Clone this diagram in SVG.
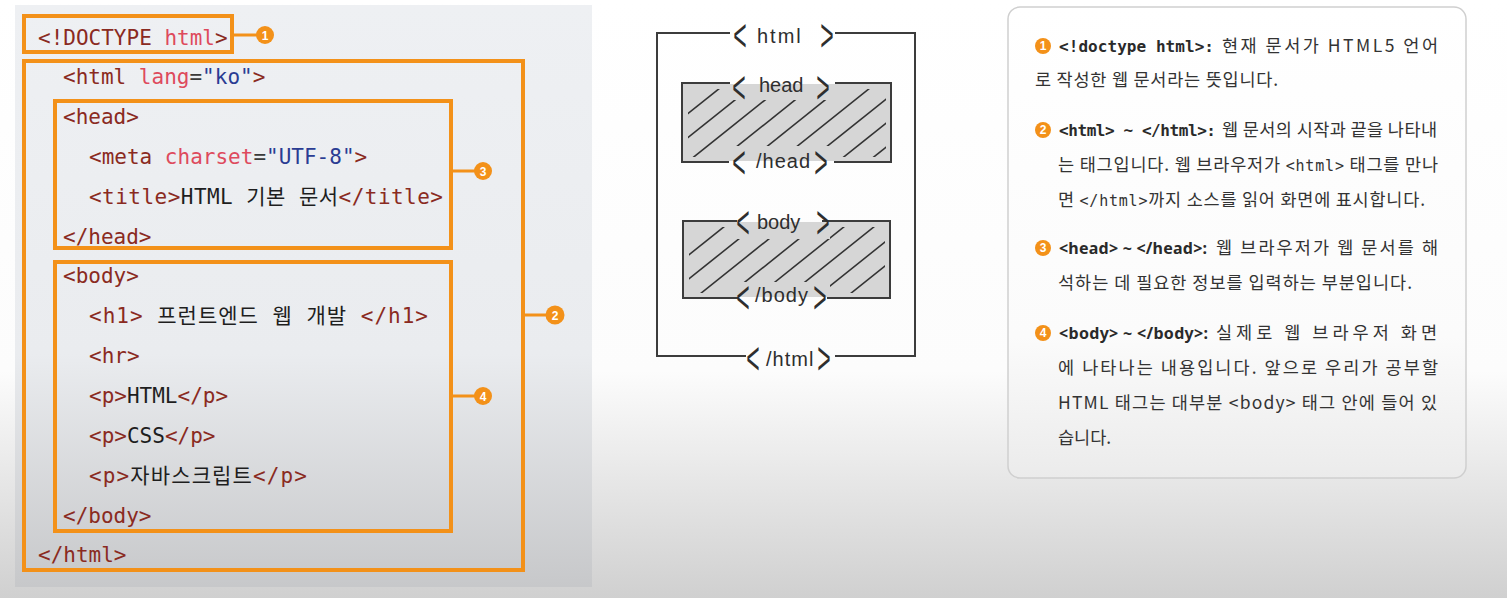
<svg xmlns="http://www.w3.org/2000/svg" width="1507" height="598" viewBox="0 0 1507 598">
<defs>
<linearGradient id="bg" x1="0" y1="0" x2="0" y2="1"><stop offset="0" stop-color="#ffffff"/><stop offset="0.62" stop-color="#fcfcfc"/><stop offset="1" stop-color="#d0d0d0"/></linearGradient>
<linearGradient id="lp" x1="0" y1="0" x2="0" y2="1"><stop offset="0" stop-color="#eef0f3"/><stop offset="0.6" stop-color="#eaecef"/><stop offset="1" stop-color="#c7c8ca"/></linearGradient>
<linearGradient id="rp" x1="0" y1="0" x2="0" y2="1"><stop offset="0" stop-color="#ffffff"/><stop offset="0.7" stop-color="#fbfbfb"/><stop offset="1" stop-color="#ebebeb"/></linearGradient>
<clipPath id="hc"><path clip-rule="evenodd" d="M688 89H886V157H688Z M727 89H842V100H727Z M720 146H836V157H720Z"/></clipPath>
<clipPath id="bc"><path clip-rule="evenodd" d="M689 227H885V293H689Z M733 227H830V239H733Z M728 282H830V293H728Z"/></clipPath>
<style>
.code{font-family:"DejaVu Sans Mono","Noto Sans CJK KR",monospace;font-size:21px}
.tg{fill:#8a2a21}.at{fill:#de4a5d}.st{fill:#2a3c93}.tx{fill:#1e1e1e}.eq{fill:#3a3a3a}
.obox{fill:none;stroke:#f39119;stroke-width:4}
.cl{stroke:#f39119;stroke-width:3;fill:none}
.dot{fill:#f39119}
.num{font-family:"Liberation Sans",Arial,sans-serif;font-weight:bold;font-size:12px;fill:#fff;text-anchor:middle}
.hand{font-family:"Liberation Sans",Arial,sans-serif;font-size:20px;fill:#2e2e2e}
.brk{font-family:"Liberation Sans",Arial,sans-serif;font-size:46px;fill:#2e2e2e;text-anchor:middle}
.edge{fill:none;stroke:#3c3c3c;stroke-width:2}
.hatch line{stroke:#333;stroke-width:1.6;stroke-linecap:round}
.gfill{fill:#d6d6d6}
.kr{font-family:"Noto Sans CJK KR","Noto Sans",sans-serif;font-size:17.5px;fill:#333}
.bm{font-family:"DejaVu Sans Mono","Liberation Mono",monospace;font-size:16px;font-weight:bold;fill:#2a2a2a}
.bs{font-family:"Noto Sans","Noto Sans CJK KR",sans-serif;font-size:16px;font-weight:bold;fill:#2a2a2a}
.mc{font-family:"DejaVu Sans Mono","Liberation Mono",monospace;font-size:15px}
</style>
</defs>
<rect width="1507" height="598" fill="url(#bg)"/>

<g id="code-panel">
<rect x="15" y="5" width="577" height="582" fill="url(#lp)"/>
<g class="code" xml:space="preserve">
<text x="38" y="45"><tspan class="tg">&lt;!DOCTYPE </tspan><tspan class="at">html</tspan><tspan class="tg">&gt;</tspan></text>
<text x="63" y="84"><tspan class="tg">&lt;html </tspan><tspan class="at">lang</tspan><tspan class="eq">=</tspan><tspan class="st">"ko"</tspan><tspan class="tg">&gt;</tspan></text>
<text x="63" y="124"><tspan class="tg">&lt;head&gt;</tspan></text>
<text x="89" y="164"><tspan class="tg">&lt;meta </tspan><tspan class="at">charset</tspan><tspan class="eq">=</tspan><tspan class="st">"UTF-8"</tspan><tspan class="tg">&gt;</tspan></text>
<text x="89" y="204" textLength="354" lengthAdjust="spacing"><tspan class="tg">&lt;title&gt;</tspan><tspan class="tx">HTML 기본 문서</tspan><tspan class="tg">&lt;/title&gt;</tspan></text>
<text x="63" y="244"><tspan class="tg">&lt;/head&gt;</tspan></text>
<text x="63" y="283"><tspan class="tg">&lt;body&gt;</tspan></text>
<text x="89" y="323" textLength="339" lengthAdjust="spacing"><tspan class="tg">&lt;h1&gt;</tspan><tspan class="tx"> 프런트엔드 웹 개발 </tspan><tspan class="tg">&lt;/h1&gt;</tspan></text>
<text x="89" y="363"><tspan class="tg">&lt;hr&gt;</tspan></text>
<text x="89" y="403"><tspan class="tg">&lt;p&gt;</tspan><tspan class="tx">HTML</tspan><tspan class="tg">&lt;/p&gt;</tspan></text>
<text x="89" y="443"><tspan class="tg">&lt;p&gt;</tspan><tspan class="tx">CSS</tspan><tspan class="tg">&lt;/p&gt;</tspan></text>
<text x="89" y="483" textLength="218" lengthAdjust="spacing"><tspan class="tg">&lt;p&gt;</tspan><tspan class="tx">자바스크립트</tspan><tspan class="tg">&lt;/p&gt;</tspan></text>
<text x="63" y="523"><tspan class="tg">&lt;/body&gt;</tspan></text>
<text x="38" y="562"><tspan class="tg">&lt;/html&gt;</tspan></text>
</g>
</g>

<g id="box-doctype"><rect class="obox" x="24" y="16" width="208" height="36"/></g>
<g id="box-html"><rect class="obox" x="24" y="61" width="499" height="509"/></g>
<g id="box-head"><rect class="obox" x="55" y="101" width="396" height="147"/></g>
<g id="box-body"><rect class="obox" x="55" y="262" width="396" height="269"/></g>

<g id="connectors">
<line class="cl" x1="232" y1="35" x2="258" y2="35"/>
<line class="cl" x1="451" y1="171" x2="476" y2="171"/>
<line class="cl" x1="523" y1="315" x2="548" y2="315"/>
<line class="cl" x1="451" y1="396" x2="476" y2="396"/>
</g>

<g id="callout-1"><circle class="dot" cx="265" cy="35" r="9"/><text class="num" x="265" y="39.5">1</text></g>
<g id="callout-3"><circle class="dot" cx="483" cy="171" r="9"/><text class="num" x="483" y="175.5">3</text></g>
<g id="callout-2"><circle class="dot" cx="555" cy="315" r="9.5"/><text class="num" x="555" y="319.5">2</text></g>
<g id="callout-4"><circle class="dot" cx="483" cy="396" r="9"/><text class="num" x="483" y="400.5">4</text></g>

<g id="sketch">
<g id="sketch-html">
<path class="edge" d="M730 33H657V356H746 M835 33H915V356H835"/>
<text class="brk" transform="translate(740 51) scale(0.5 1)">&lt;</text>
<text class="hand" x="757" y="43" letter-spacing="2">html</text>
<text class="brk" transform="translate(827 51) scale(0.5 1)">&gt;</text>
<text class="brk" transform="translate(753 374) scale(0.5 1)">&lt;</text>
<text class="hand" x="766" y="366" letter-spacing="1">/html</text>
<text class="brk" transform="translate(824 374) scale(0.5 1)">&gt;</text>
</g>
<g id="sketch-head">
<rect class="gfill" x="682" y="84" width="209" height="77"/>
<g class="hatch" clip-path="url(#hc)">
<line x1="630" y1="160" x2="725" y2="84"/>
<line x1="660" y1="160" x2="755" y2="84"/><line x1="690" y1="160" x2="785" y2="84"/>
<line x1="720" y1="160" x2="815" y2="84"/><line x1="750" y1="160" x2="845" y2="84"/>
<line x1="780" y1="160" x2="875" y2="84"/><line x1="810" y1="160" x2="905" y2="84"/>
<line x1="840" y1="160" x2="935" y2="84"/><line x1="870" y1="160" x2="965" y2="84"/>
</g>
<path class="edge" d="M730 83H682V162H729 M835 83H891V162H834"/>
<text class="brk" transform="translate(739 103) scale(0.5 1)">&lt;</text>
<text class="hand" x="759" y="92">head</text>
<text class="brk" transform="translate(823 103) scale(0.5 1)">&gt;</text>
<text class="brk" transform="translate(739 178) scale(0.5 1)">&lt;</text>
<text class="hand" x="756" y="168" letter-spacing="1">/head</text>
<text class="brk" transform="translate(821 178) scale(0.5 1)">&gt;</text>
</g>
<g id="sketch-body">
<rect class="gfill" x="683" y="222" width="207" height="75"/>
<g class="hatch" clip-path="url(#bc)">
<line x1="635" y1="298" x2="730" y2="222"/>
<line x1="665" y1="298" x2="760" y2="222"/><line x1="695" y1="298" x2="790" y2="222"/>
<line x1="725" y1="298" x2="820" y2="222"/><line x1="755" y1="298" x2="850" y2="222"/>
<line x1="785" y1="298" x2="880" y2="222"/><line x1="815" y1="298" x2="910" y2="222"/>
<line x1="845" y1="298" x2="940" y2="222"/>
</g>
<path class="edge" d="M737 221H683V298H738 M822 221H890V298H827"/>
<text class="brk" transform="translate(743 238) scale(0.5 1)">&lt;</text>
<text class="hand" x="757" y="229">body</text>
<text class="brk" transform="translate(823 238) scale(0.5 1)">&gt;</text>
<text class="brk" transform="translate(743 313) scale(0.5 1)">&lt;</text>
<text class="hand" x="755" y="302" letter-spacing="1">/body</text>
<text class="brk" transform="translate(820 313) scale(0.5 1)">&gt;</text>
</g>
</g>

<g id="notes">
<rect x="1008" y="7" width="458" height="471" rx="12" fill="url(#rp)" stroke="#cfcfcf" stroke-width="1.5"/>
<g id="note-1">
<circle class="dot" cx="1043" cy="46" r="8"/><text class="num" x="1043" y="50">1</text>
<text class="bm" x="1059" y="52" textLength="155" lengthAdjust="spacing">&lt;!doctype html&gt;:</text>
<text class="kr" x="1222" y="52" textLength="216" lengthAdjust="spacing">현재 문서가 HTML5 언어</text>
<text class="kr" x="1035" y="86" textLength="243" lengthAdjust="spacing">로 작성한 웹 문서라는 뜻입니다.</text>
</g>
<g id="note-2">
<circle class="dot" cx="1043" cy="130" r="8"/><text class="num" x="1043" y="134">2</text>
<text class="bm" x="1059" y="136" textLength="157" lengthAdjust="spacing">&lt;html&gt; ~ &lt;/html&gt;:</text>
<text class="kr" x="1222" y="136" textLength="215" lengthAdjust="spacing">웹 문서의 시작과 끝을 나타내</text>
<text class="kr" x="1058" y="171" textLength="380" lengthAdjust="spacing" xml:space="preserve">는 태그입니다. 웹 브라우저가 <tspan class="mc">&lt;html&gt;</tspan> 태그를 만나</text>
<text class="kr" x="1058" y="206" textLength="367" lengthAdjust="spacing" xml:space="preserve">면 <tspan class="mc">&lt;/html&gt;</tspan>까지 소스를 읽어 화면에 표시합니다.</text>
</g>
<g id="note-3">
<circle class="dot" cx="1043" cy="248" r="8"/><text class="num" x="1043" y="252">3</text>
<text class="bs" x="1059" y="254" textLength="148" lengthAdjust="spacing">&lt;head&gt; ~ &lt;/head&gt;:</text>
<text class="kr" x="1216" y="254" textLength="222" lengthAdjust="spacing">웹 브라우저가 웹 문서를 해</text>
<text class="kr" x="1058" y="289" textLength="354" lengthAdjust="spacing">석하는 데 필요한 정보를 입력하는 부분입니다.</text>
</g>
<g id="note-4">
<circle class="dot" cx="1043" cy="333" r="8"/><text class="num" x="1043" y="337">4</text>
<text class="bs" x="1059" y="339" textLength="149" lengthAdjust="spacing">&lt;body&gt; ~ &lt;/body&gt;:</text>
<text class="kr" x="1216" y="339" textLength="221" lengthAdjust="spacing">실제로 웹 브라우저 화면</text>
<text class="kr" x="1058" y="374" textLength="380" lengthAdjust="spacing">에 나타나는 내용입니다. 앞으로 우리가 공부할</text>
<text class="kr" x="1058" y="409" textLength="379" lengthAdjust="spacing">HTML 태그는 대부분 &lt;body&gt; 태그 안에 들어 있</text>
<text class="kr" x="1058" y="444">습니다.</text>
</g>
</g>
</svg>
